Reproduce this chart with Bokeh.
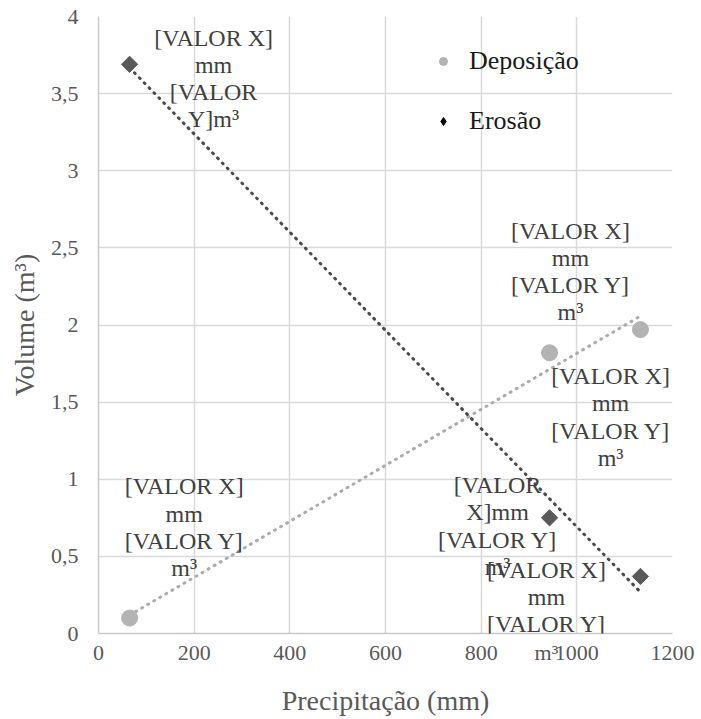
import numpy as np
from bokeh.plotting import figure
from bokeh.models import (Range1d, FixedTicker, Label, Legend, LegendItem)
from bokeh.embed import file_html
from bokeh.resources import INLINE

# ---- data ----
precip = [65, 943, 1133]
deposicao = [0.10, 1.82, 1.97]
erosao = [3.69, 0.75, 0.37]
series_names = ["Deposição", "Erosão"]
x_ticks = [0, 200, 400, 600, 800, 1000, 1200]
x_tick_labels = ["0", "200", "400", "600", "800", "1000", "1200"]
y_ticks = [0, 0.5, 1, 1.5, 2, 2.5, 3, 3.5, 4]
y_tick_labels = ["0", "0,5", "1", "1,5", "2", "2,5", "3", "3,5", "4"]
x_title = "Precipitação (mm)"
y_title = "Volume (m³)"
std_label = ["[VALOR X]", "mm", "[VALOR Y]", "m³"]
dep_label_lines = [std_label, std_label, std_label]
ero_label_lines = [["[VALOR X]", "mm", "[VALOR", "Y]m³"],
                   ["[VALOR", "X]mm", "[VALOR Y]", "m³"],
                   std_label]

# ---- styling / label placement (pixels: dx right, dy down to first line) ----
dep_label_off = [(54.6, -131.6), (61, 23.4), (-70, -99)]
ero_label_off = [(84, -26.7), (-52, -32.7), (-94, -6.7)]
LINE_STEP = 27.2
FONT = "'Liberation Serif', 'Times New Roman', 'DejaVu Serif', serif"
W, H = 700, 718
BL, BR, BT, BB = 98, 28, 16, 85
FRAME_W = W - BL - BR

p = figure(width=W, height=H, output_backend="svg", toolbar_location=None,
           x_range=Range1d(0, 1200), y_range=Range1d(0, 4),
           min_border_left=BL, min_border_right=BR, min_border_top=BT,
           min_border_bottom=BB)
p.outline_line_color = None
p.background_fill_color = "white"

# the last line of the lowest label hangs below the frame: draw it as an
# extra x-axis label (axis labels are not clipped by the frame)
px_to_x = (p.x_range.end - p.x_range.start) / FRAME_W
tail_x = precip[2] + ero_label_off[2][0] * px_to_x
tail_text = ero_label_lines[2][-1]

p.xaxis.ticker = FixedTicker(ticks=x_ticks + [tail_x])
p.xgrid.ticker = FixedTicker(ticks=x_ticks)
p.yaxis.ticker = FixedTicker(ticks=y_ticks)
overrides = {t: l for t, l in zip(x_ticks, x_tick_labels)}
overrides[tail_x] = tail_text
p.xaxis.major_label_overrides = overrides
p.yaxis.major_label_overrides = {t: l for t, l in zip(y_ticks, y_tick_labels)}
for ax in (p.xaxis, p.yaxis):
    ax.major_tick_line_color = None
    ax.minor_tick_line_color = None
    ax.major_tick_out = 0
    ax.major_tick_in = 0
    ax.axis_line_color = "#C8C8C8"
    ax.axis_line_width = 1.5
    ax.major_label_text_font = FONT
    ax.major_label_text_font_size = "22px"
    ax.major_label_text_color = "#595959"
    ax.axis_label_text_font = FONT
    ax.axis_label_text_font_size = "28px"
    ax.axis_label_text_font_style = "normal"
    ax.axis_label_text_color = "#595959"
p.xaxis.axis_label = x_title
p.yaxis.axis_label = y_title
p.xaxis.major_label_standoff = 6
p.xaxis.axis_label_standoff = 17
p.yaxis.major_label_standoff = 20
p.yaxis.axis_label_standoff = 8

for g in (p.xgrid, p.ygrid):
    g.grid_line_color = "#D9D9D9"
    g.grid_line_width = 1.5

# ---- trend lines (least squares from the data) ----
xs = np.array(precip, dtype=float)
for ys, col in ((deposicao, "#ABABAB"), (erosao, "#4A4A4A")):
    k, b = np.polyfit(xs, np.array(ys, dtype=float), 1)
    xe = np.array([xs.min(), xs.max()])
    p.line(xe, k * xe + b, line_color=col, line_width=3, line_dash="1 6",
           line_cap="round")

# ---- legend glyphs (drawn underneath the real markers, hidden by them) ----
leg_dep = p.scatter(precip, deposicao, marker="circle", size=14,
                    fill_color="#B3B3B3", line_color="#B3B3B3")
leg_ero = p.scatter(precip, erosao, marker="diamond", size=13,
                    fill_color="#000000", line_color="#000000")

# ---- points ----
p.scatter(precip, deposicao, marker="circle", size=16, fill_color="#B3B3B3",
          line_color="#B3B3B3")
p.scatter(precip, erosao, marker="square", size=11.5, angle=np.pi / 4,
          fill_color="#595959", line_color="#595959")

# ---- data labels (one Label per text line, offset from its point) ----
for s, (yser, lines_all, offs) in enumerate(
        ((deposicao, dep_label_lines, dep_label_off),
         (erosao, ero_label_lines, ero_label_off))):
    for i in range(len(precip)):
        dx, dy = offs[i]
        for j, line in enumerate(lines_all[i]):
            if s == 1 and i == 2 and j == len(lines_all[i]) - 1:
                continue  # drawn as the extra axis label above
            p.add_layout(Label(x=precip[i], y=yser[i], text=line,
                               x_offset=dx, y_offset=-(dy + j * LINE_STEP),
                               text_font=FONT, text_font_size="24px",
                               text_color="#404040", text_align="center",
                               text_baseline="middle"))

legend = Legend(items=[LegendItem(label=series_names[0], renderers=[leg_dep]),
                       LegendItem(label=series_names[1], renderers=[leg_ero])],
                location=(335, 497), orientation="vertical", padding=0,
                margin=0, spacing=30, glyph_width=20, glyph_height=30,
                label_height=30, label_standoff=16, label_text_font=FONT,
                label_text_font_size="26px", label_text_color="#1A1A1A",
                border_line_color=None, background_fill_alpha=0)
p.add_layout(legend)

open("out.html", "w").write(file_html(p, INLINE))
